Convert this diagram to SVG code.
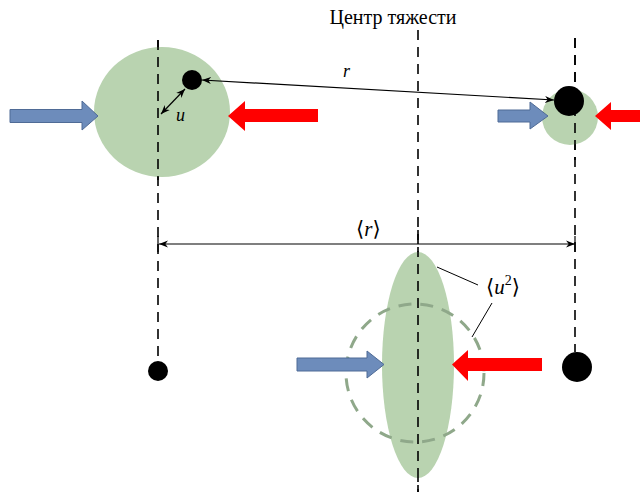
<svg xmlns="http://www.w3.org/2000/svg" width="640" height="492" viewBox="0 0 640 492">
<defs>
<style>
.ax{stroke:#000;stroke-width:1.6;stroke-dasharray:10,7;fill:none}
.gr{fill:#b9d3b0}
.blue{fill:#6d8cbb;stroke:#4f6b96;stroke-width:1}
.red{fill:#ff0000}
.dot{fill:#000}
.ln{stroke:#000;stroke-width:1.2;fill:none}
.t{font-family:"Liberation Serif","DejaVu Serif",serif;fill:#000}
.i{font-style:italic}
.br{font-family:"DejaVu Serif",serif;font-weight:200}
</style>
<marker id="ah" viewBox="0 0 10 10" refX="10" refY="5" markerWidth="9" markerHeight="9" markerUnits="userSpaceOnUse" orient="auto-start-reverse">
<path d="M0,1 L10,5 L0,9 L3,5 Z" fill="#000"/>
</marker>
</defs>
<rect width="640" height="492" fill="#fff"/>
<g id="axes">
<line class="ax" x1="158" y1="40" x2="158" y2="356"/>
<line class="ax" x1="418" y1="30" x2="418" y2="492"/>
<line class="ax" x1="575" y1="38" x2="575" y2="352"/>
</g>
<g id="title"><text class="t" x="393" y="24" font-size="20" text-anchor="middle">Центр тяжести</text></g>
<g id="left-body">
<ellipse class="gr" cx="162" cy="112" rx="68" ry="65"/>
<line class="ax" x1="158" y1="40" x2="158" y2="180"/>
<circle class="dot" cx="192" cy="80" r="10"/>
<text class="t i" x="176" y="121" font-size="18">u</text>
</g>
<g id="right-body">
<circle class="gr" cx="570" cy="117" r="28"/>
<line class="ax" x1="575" y1="38" x2="575" y2="160"/>
<circle class="dot" cx="569" cy="101" r="15"/>
</g>
<g id="center-body">
<ellipse class="gr" cx="418" cy="365" rx="36" ry="113"/>
<circle cx="415" cy="373" r="69" fill="none" stroke="#8fa88a" stroke-width="3" stroke-dasharray="13,9"/>
<line class="ax" x1="418" y1="230" x2="418" y2="492"/>
<text class="t" x="486" y="294" font-size="21"><tspan class="br">⟨</tspan><tspan class="i">u</tspan><tspan font-size="14" dy="-9">2</tspan><tspan class="br" dy="9">⟩</tspan></text>
</g>
<g id="bottom-dots">
<circle class="dot" cx="158" cy="371" r="10"/>
<circle class="dot" cx="577" cy="367" r="15"/>
</g>
<g id="arrows">
<path class="blue" d="M10,109.5 H82 V101 L98,116 L82,130 V122.5 H10 Z"/>
<path class="red" d="M318,109 H245 V101 L228,116 L245,131 V122 H318 Z"/>
<path class="blue" d="M498,110 H530 V102 L548,116 L530,129 V122 H498 Z"/>
<path class="red" d="M640,110 H611 V102 L595,116 L611,130 V122 H640 Z"/>
<path class="blue" d="M297,358 H367 V351 L384,364.5 L367,378 V371 H297 Z"/>
<path class="red" d="M542,358 H468 V350 L452,364.5 L468,381 V371 H542 Z"/>
</g>
<g id="connectors">
<line class="ln" x1="202" y1="80" x2="554" y2="100" marker-start="url(#ah)" marker-end="url(#ah)"/>
<text class="t i" x="343" y="77" font-size="18">r</text>
<line class="ln" x1="161" y1="114" x2="185" y2="89" marker-start="url(#ah)" marker-end="url(#ah)"/>
<line class="ln" x1="159" y1="244" x2="575" y2="244" marker-start="url(#ah)" marker-end="url(#ah)"/>
<line class="ln" x1="158" y1="236" x2="158" y2="252"/>
<line class="ln" x1="575" y1="236" x2="575" y2="252"/>
<text class="t" x="356" y="236" font-size="21"><tspan class="br">⟨</tspan><tspan class="i">r</tspan><tspan class="br">⟩</tspan></text>
<line x1="437" y1="267" x2="478" y2="285" stroke="#000" stroke-width="1"/>
<line x1="492" y1="303" x2="472" y2="337" stroke="#000" stroke-width="1"/>
</g>
</svg>
